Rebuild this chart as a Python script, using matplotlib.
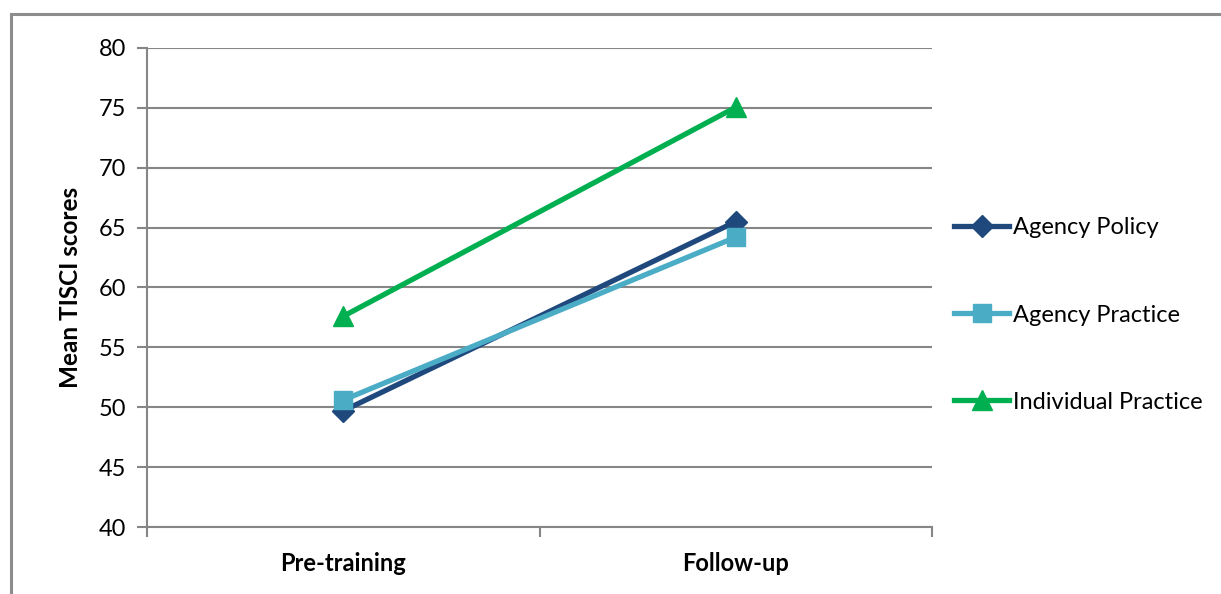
import matplotlib.pyplot as plt
from matplotlib.patches import Rectangle

plt.rcParams['font.family'] = ['Lato', 'DejaVu Sans']

categories = ['Pre-training', 'Follow-up']
agency_policy = [49.7, 65.5]
agency_practice = [50.6, 64.2]
individual_practice = [57.6, 75.05]
yticks = [40, 45, 50, 55, 60, 65, 70, 75, 80]

W, H = 1221, 594
fig = plt.figure(figsize=(W / 100, H / 100), dpi=100)
ax = fig.add_axes([147 / W, (H - 527) / H, (932 - 147) / W, (527 - 48) / H])

# outer chart frame (right/bottom edges cropped in reference)
fig.patches.append(Rectangle((11 / W, -0.1), 1.2, (H - 14) / H + 0.1,
                             transform=fig.transFigure, fill=False,
                             edgecolor='#8c8c8c', linewidth=2.2))

x = [0.5, 1.5]
ax.plot(x, agency_policy, color='#1f497d', lw=3.8, marker='D', ms=11,
        label='Agency Policy', zorder=3)
ax.plot(x, agency_practice, color='#4bacc6', lw=3.8, marker='s', ms=13,
        label='Agency Practice', zorder=4)
ax.plot(x, individual_practice, color='#00b050', lw=3.8, marker='^', ms=14,
        label='Individual Practice', zorder=3)

ax.set_xlim(0, 2)
ax.set_ylim(40, 80)
ax.set_yticks(yticks)
ax.tick_params(axis='y', labelsize=17, length=7, width=1.5, color='#868686', pad=8)
ax.set_xticks([0, 1, 2])
ax.set_xticklabels([])
ax.set_xticks(x, minor=True)
ax.set_xticklabels(categories, minor=True, fontsize=17, fontweight='bold')
ax.tick_params(axis='x', which='major', length=7, width=1.5, color='#868686')
ax.tick_params(axis='x', which='minor', length=0, pad=18)
ax.grid(axis='y', color='#868686', lw=1.5)
ax.set_axisbelow(True)
for s in ['top', 'right']:
    ax.spines[s].set_visible(False)
for s in ['left', 'bottom']:
    ax.spines[s].set_color('#868686')
    ax.spines[s].set_linewidth(1.5)

ax.set_ylabel('Mean TISCI scores', fontsize=17.5, fontweight='bold', labelpad=12)

ax.legend(loc='center left', bbox_to_anchor=(1.028, (527 - 315) / 479),
          frameon=False, fontsize=17, handlelength=2.35, handletextpad=0.17,
          labelspacing=2.8, borderaxespad=0, borderpad=0)

fig.savefig('out.png', dpi=100)
